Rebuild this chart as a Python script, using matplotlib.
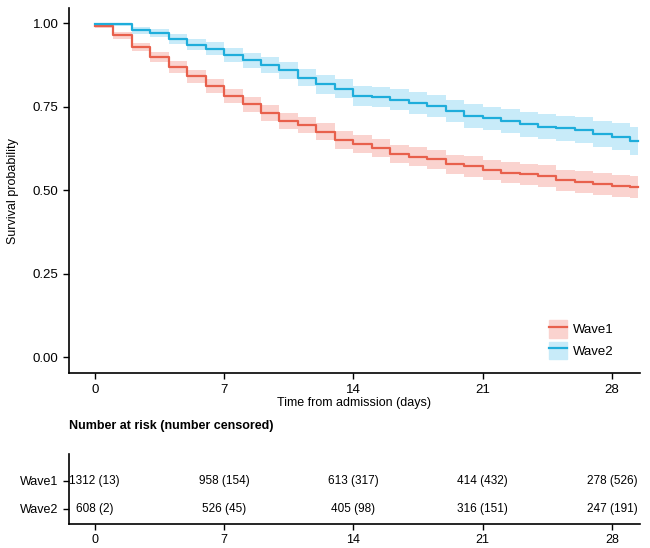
import numpy as np
import matplotlib.pyplot as plt
from matplotlib.patches import Patch
from matplotlib.lines import Line2D

plt.rcParams['font.family'] = ['Liberation Sans', 'DejaVu Sans']

# day of each step (last entry = end of follow-up)
days = list(range(30)) + [29.4]

wave1_surv = [0.991, 0.964, 0.929, 0.899, 0.869, 0.841, 0.811, 0.782, 0.757, 0.730,
              0.707, 0.695, 0.675, 0.650, 0.638, 0.625, 0.608, 0.600, 0.592, 0.577,
              0.571, 0.560, 0.553, 0.548, 0.542, 0.530, 0.525, 0.518, 0.513, 0.510]
wave1_lower = [0.986, 0.954, 0.916, 0.883, 0.851, 0.821, 0.790, 0.760, 0.734, 0.706,
               0.682, 0.670, 0.649, 0.624, 0.611, 0.598, 0.580, 0.572, 0.563, 0.548,
               0.541, 0.530, 0.522, 0.517, 0.510, 0.498, 0.492, 0.485, 0.479, 0.476]
wave1_upper = [0.996, 0.974, 0.942, 0.915, 0.887, 0.861, 0.832, 0.804, 0.780, 0.754,
               0.732, 0.720, 0.701, 0.676, 0.665, 0.652, 0.636, 0.628, 0.621, 0.606,
               0.601, 0.590, 0.584, 0.579, 0.574, 0.562, 0.558, 0.551, 0.547, 0.544]

wave2_surv = [0.999, 0.997, 0.979, 0.971, 0.954, 0.936, 0.924, 0.904, 0.889, 0.874,
              0.859, 0.837, 0.817, 0.804, 0.782, 0.779, 0.771, 0.761, 0.751, 0.737,
              0.722, 0.715, 0.707, 0.697, 0.690, 0.685, 0.680, 0.668, 0.660, 0.647]
wave2_lower = [0.998, 0.993, 0.969, 0.959, 0.939, 0.919, 0.905, 0.883, 0.867, 0.850,
               0.834, 0.811, 0.789, 0.775, 0.752, 0.749, 0.740, 0.729, 0.718, 0.703,
               0.687, 0.680, 0.671, 0.660, 0.652, 0.647, 0.641, 0.628, 0.619, 0.605]
wave2_upper = [1.000, 1.000, 0.989, 0.983, 0.969, 0.953, 0.943, 0.925, 0.911, 0.898,
               0.884, 0.863, 0.845, 0.833, 0.812, 0.809, 0.802, 0.793, 0.784, 0.771,
               0.757, 0.750, 0.743, 0.734, 0.728, 0.723, 0.719, 0.708, 0.701, 0.689]

groups = ['Wave1', 'Wave2']
risk_times = [0, 7, 14, 21, 28]
risk_wave1 = ['1312 (13)', '958 (154)', '613 (317)', '414 (432)', '278 (526)']
risk_wave2 = ['608 (2)', '526 (45)', '405 (98)', '316 (151)', '247 (191)']

red = '#E8604C'
blue = '#1EADDB'
red_fill = '#FAD3CF'
blue_fill = '#C8EBF9'


def ext(v):
    return v + [v[-1]]


fig = plt.figure(figsize=(6.5, 5.48), dpi=100)
ax = fig.add_axes([0.106, 0.319, 0.878, 0.666])

ax.fill_between(days, ext(wave1_lower), ext(wave1_upper), step='post',
                color=red_fill, lw=0)
ax.fill_between(days, ext(wave2_lower), ext(wave2_upper), step='post',
                color=blue_fill, lw=0)
ax.step(days, ext(wave1_surv), where='post', color=red, lw=1.6)
ax.step(days, ext(wave2_surv), where='post', color=blue, lw=1.6)

ax.set_xlim(-1.4, 29.5)
ax.set_ylim(-0.048, 1.045)
ax.set_xticks(risk_times)
ax.set_yticks([0, 0.25, 0.5, 0.75, 1.0])
ax.set_yticklabels(['0.00', '0.25', '0.50', '0.75', '1.00'])
ax.set_xlabel('Time from admission (days)', fontsize=9, labelpad=1)
ax.set_ylabel('Survival probability', fontsize=9, labelpad=10)
for s in ['top', 'right']:
    ax.spines[s].set_visible(False)
for s in ['left', 'bottom']:
    ax.spines[s].set_linewidth(1.2)
ax.tick_params(direction='out', length=4, width=1, labelsize=9.5, colors='black')

handles = [(Patch(color=red_fill), Line2D([], [], color=red, lw=1.6)),
           (Patch(color=blue_fill), Line2D([], [], color=blue, lw=1.6))]
ax.legend(handles, groups, loc='lower right', bbox_to_anchor=(0.975, 0.005),
          frameon=False, fontsize=9.5, handlelength=1.4, handleheight=1.7,
          labelspacing=0.3, handletextpad=0.4)

# risk table
tab = fig.add_axes([0.106, 0.0438, 0.878, 0.128])
tab.set_xlim(-1.4, 29.5)
tab.set_ylim(0.464, 2.964)
for t, a, b in zip(risk_times, risk_wave1, risk_wave2):
    tab.text(t, 2, a, ha='center', va='center', fontsize=8.5)
    tab.text(t, 1, b, ha='center', va='center', fontsize=8.5)
tab.set_xticks(risk_times)
tab.set_yticks([2, 1])
tab.set_yticklabels(groups)
for s in ['top', 'right']:
    tab.spines[s].set_visible(False)
for s in ['left', 'bottom']:
    tab.spines[s].set_linewidth(1.2)
tab.tick_params(direction='out', length=4, width=1, labelsize=9, colors='black')
fig.text(0.106, 1 - 426 / 548, 'Number at risk (number censored)',
         fontsize=9, fontweight='bold', va='center', ha='left')

fig.savefig('out.png', dpi=100)
